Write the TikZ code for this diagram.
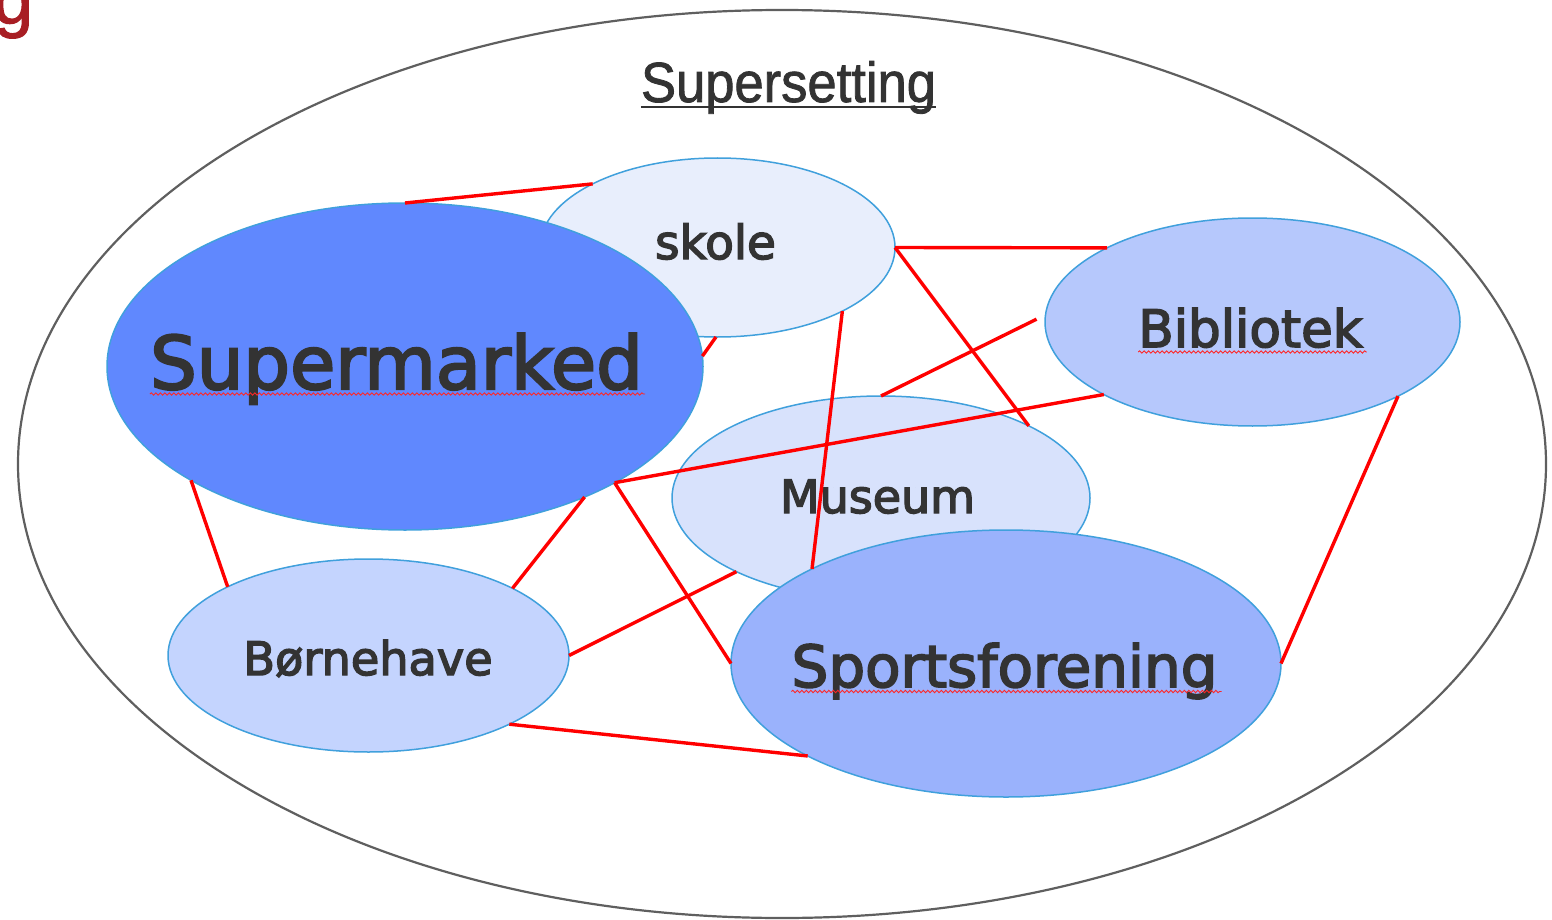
\documentclass[tikz,border=0pt]{standalone}
\usepackage{fontspec}
\setmainfont[FakeBold=3]{DejaVu Sans}
\newfontfamily\arialf[FakeBold=1.5]{Liberation Sans}
\usetikzlibrary{shapes.geometric,decorations.pathmorphing}
\definecolor{txt}{RGB}{51,51,51}
\definecolor{edgeblue}{RGB}{64,160,220}
\definecolor{outergray}{RGB}{95,95,95}
\definecolor{dkred}{RGB}{168,30,36}
\definecolor{fskole}{RGB}{232,238,252}
\definecolor{fsuper}{RGB}{96,136,254}
\definecolor{fbib}{RGB}{182,200,252}
\definecolor{fmus}{RGB}{216,226,252}
\definecolor{fborn}{RGB}{196,212,254}
\definecolor{fsport}{RGB}{154,178,252}
\begin{document}
\begin{tikzpicture}[x=1pt,y=-1pt,
  blob/.style={ellipse, draw=edgeblue, line width=1.5pt, inner sep=0pt, outer sep=0pt},
  lbl/.style={text=txt, inner sep=0pt, anchor=base},
  link/.style={draw=red, line width=3.4pt},
  wavy/.style={draw=red!85!white, line width=0.9pt, decorate,
    decoration={snake, segment length=4.5pt, amplitude=1.2pt}}]
\useasboundingbox (0,0) rectangle (1552,920);

% cut-off title letter
\node[font=\arialf\fontsize{72pt}{80pt}\selectfont, text=dkred, inner sep=0pt, anchor=base east] (gg) at (33.5,23.5) {g};

% outer set
\node[ellipse, draw=outergray, line width=2.2pt, inner sep=0pt, outer sep=0pt,
  minimum width=1528pt, minimum height=908pt] (outer) at (782,464) {};

% settings
\node[blob, fill=fskole, minimum width=355pt, minimum height=179pt] (sk) at (717.5,247.5) {};
\node[blob, fill=fsuper, minimum width=596pt, minimum height=327pt] (sm) at (405,366.5) {};
\node[blob, fill=fmus, minimum width=418pt, minimum height=204pt] (mu) at (881,498) {};
\node[blob, fill=fsport, minimum width=550pt, minimum height=267pt] (sp) at (1006,663.5) {};
\node[blob, fill=fbib, minimum width=415pt, minimum height=208pt] (bi) at (1252.5,322) {};
\node[blob, fill=fborn, minimum width=401pt, minimum height=193pt] (bo) at (368.5,655.5) {};

% labels
\node[lbl, font=\arialf\fontsize{56.5pt}{66pt}\selectfont] (title) at (788.5,102) {\scalebox{0.93}[1]{Supersetting}};
\node[lbl, font=\fontsize{47pt}{56pt}\selectfont] (skt) at (715.5,259) {skole};
\node[lbl, font=\fontsize{73.5pt}{88pt}\selectfont] (smt) at (396.5,389) {Supermarked};
\node[lbl, font=\fontsize{51.5pt}{62pt}\selectfont] (bit) at (1250.5,347) {Bibliotek};
\node[lbl, font=\fontsize{46pt}{55pt}\selectfont] (mut) at (877.5,513) {Museum};
\node[lbl, font=\fontsize{46.2pt}{55pt}\selectfont] (bot) at (368,675) {Børnehave};
\node[lbl, font=\fontsize{57.9pt}{69pt}\selectfont] (spt) at (1004.5,687) {Sportsforening};

% underline of title
\draw[txt, line width=2.4pt] ([yshift=-5pt]title.base west) -- ([yshift=-5pt]title.base east);

% spelling marks
\draw[wavy] ([yshift=-5pt]smt.base west) -- ([xshift=2pt,yshift=-5pt]smt.base east);
\draw[wavy] ([yshift=-5pt]bit.base west) -- ([xshift=4pt,yshift=-5pt]bit.base east);
\draw[wavy] ([yshift=-4.5pt]spt.base west) -- ([xshift=4pt,yshift=-4.5pt]spt.base east);

% connections
\draw[link] (sm.90) -- (sk.153.2);
\draw[link] (sm.2.8) -- (sk.269);
\draw[link] (sk.0.5) -- (bi.153.2);
\draw[link] (sk.0.5) -- (mu.26.3);
\draw[link] (sk.333) -- (sp.154.5);
\draw[link, shorten <=10pt] (bi.178.9) -- (mu.90);
\draw[link] (bi.206.2) -- (sm.331.3);
\draw[link] (sm.331.3) -- (sp.180);
\draw[link] (sm.208.8) -- (bo.154.3);
\draw[link] (sm.324) -- (bo.25.8);
\draw[link] (bo.0) -- (mu.207.2);
\draw[link] (bo.334.8) -- (sp.205.7);
\draw[link] (bi.333.2) -- (sp.0);
\end{tikzpicture}
\end{document}
